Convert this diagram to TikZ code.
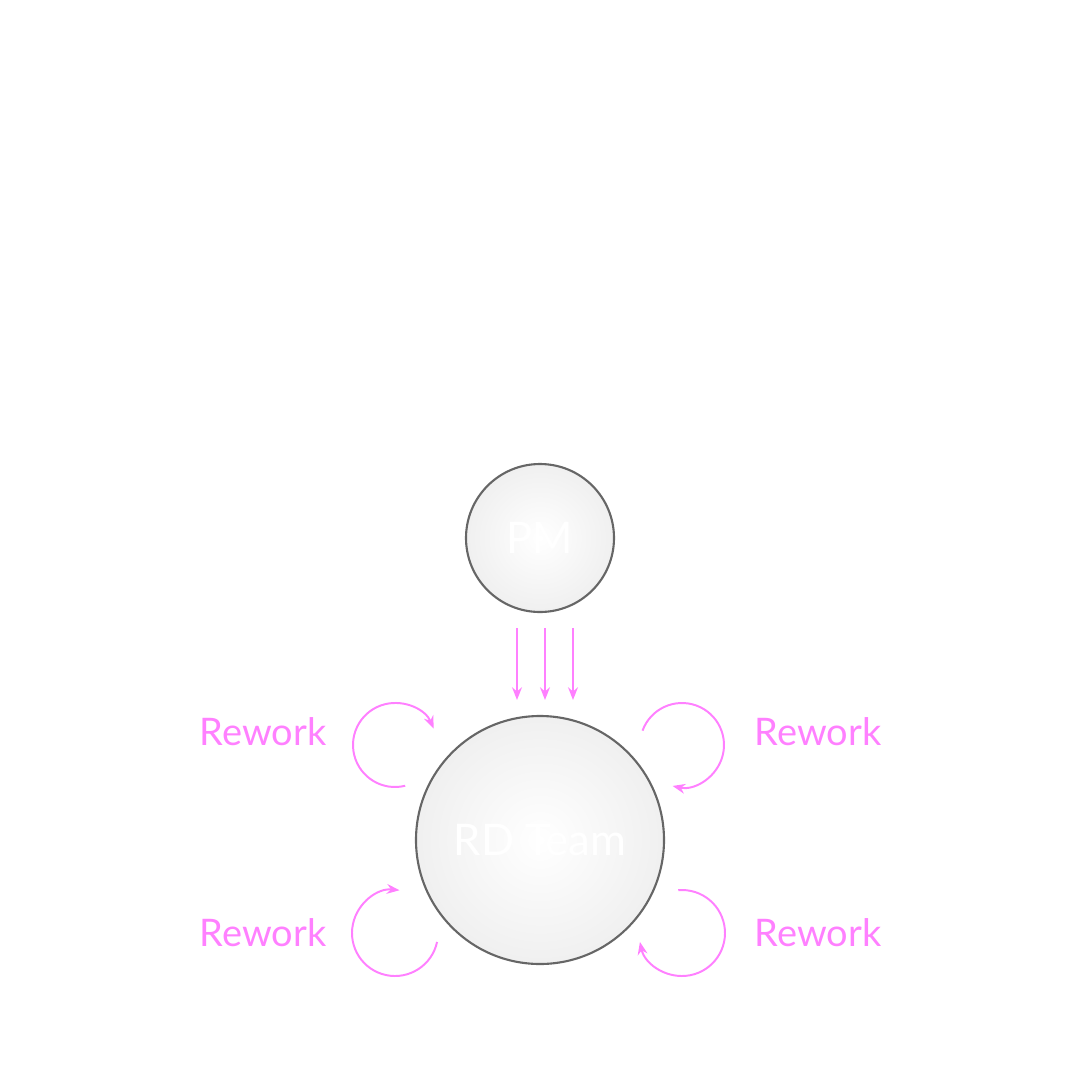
\documentclass[tikz,border=0pt]{standalone}
\usepackage{fontspec}
\setmainfont{Lato}
\usetikzlibrary{arrows.meta}
\definecolor{pk}{HTML}{FF80FF}
\definecolor{bd}{HTML}{666666}
\begin{document}
\begin{tikzpicture}[x=0.025cm,y=-0.025cm,
 ball/.style={circle,draw=bd,line width=1.5pt,inner color=white,outer color=gray!12,text=white,font=\fontsize{31}{34}\selectfont},
 fl/.style={pk,line width=1.4pt,-{Stealth[length=9pt,width=7pt]}},
 lbl/.style={text=pk,font=\fontsize{27}{30}\selectfont}]
\useasboundingbox (0,0) rectangle (1080,1080);
\node[ball,minimum size=148*0.025cm] (pm) at (540,538) {PM};
\node[ball,minimum size=248*0.025cm] (rd) at (540,840) {RD Team};
\foreach \x [count=\i] in {517,545,573}{
 \coordinate (s\i) at (\x,628); \coordinate (e\i) at (\x,700);
 \draw[fl] (s\i) -- (e\i);}
\draw[fl] (395,745) ++(76:42) arc[start angle=76,end angle=337,radius=42];
\draw[fl] (682,745) ++(200:42) arc[start angle=200,end angle=463,radius=42];
\draw[fl] (395,933) ++(12:43) arc[start angle=12,end angle=276,radius=43];
\draw[fl] (682,933) ++(265:43) arc[start angle=265,end angle=528,radius=43];
\node[lbl] (l1) at (263,732) {Rework};
\node[lbl] (l2) at (818,732) {Rework};
\node[lbl] (l3) at (263,933) {Rework};
\node[lbl] (l4) at (818,933) {Rework};
\end{tikzpicture}
\end{document}
